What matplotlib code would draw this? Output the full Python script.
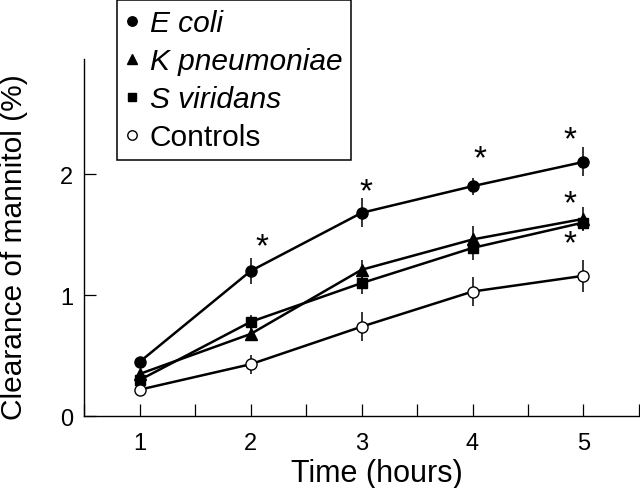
import matplotlib
matplotlib.use("Agg")
import matplotlib.pyplot as plt
from matplotlib.lines import Line2D
from matplotlib.ticker import MultipleLocator

plt.rcParams["font.family"] = ["Liberation Sans", "DejaVu Sans"]

# time points (hours)
hours = [1, 2, 3, 4, 5]

# clearance of mannitol (%), mean and error
e_coli = [0.45, 1.20, 1.68, 1.90, 2.10]
e_coli_err = [0.03, 0.11, 0.12, 0.07, 0.12]
k_pneumoniae = [0.35, 0.68, 1.21, 1.46, 1.63]
k_pneumoniae_err = [0.03, 0.05, 0.08, 0.11, 0.10]
s_viridans = [0.30, 0.78, 1.10, 1.39, 1.60]
s_viridans_err = [0.03, 0.06, 0.09, 0.10, 0.06]
controls = [0.22, 0.43, 0.74, 1.03, 1.16]
controls_err = [0.02, 0.08, 0.12, 0.12, 0.13]

# significance asterisks (x, y)
star_x = [2.105, 3.04, 4.07, 4.88, 4.88, 4.88]
star_y = [1.46, 1.91, 2.18, 2.34, 1.81, 1.48]

LINE_W = 1.8

fig = plt.figure(figsize=(6.4, 4.89), dpi=100)
ax = fig.add_axes([84.3 / 640, 1 - 417.3 / 489, 1 - 84.3 / 640, (417.3 - 60) / 489])

series = [
    (e_coli, e_coli_err, "o", "black", 8.0, "E coli"),
    (k_pneumoniae, k_pneumoniae_err, "^", "black", 8.0, "K pneumoniae"),
    (s_viridans, s_viridans_err, "s", "black", 6.5, "S viridans"),
    (controls, controls_err, "o", "white", 8.0, "Controls"),
]

for values, errs, marker, face, size, label in series:
    ax.errorbar(hours, values, yerr=errs, fmt="-", color="black", linewidth=LINE_W,
                elinewidth=1.1, capsize=0, marker=marker, markersize=size,
                markerfacecolor=face, markeredgecolor="black", markeredgewidth=1.0)

for x, y in zip(star_x, star_y):
    ax.annotate("*", (x, y), xytext=(0, -5), textcoords="offset points",
                ha="center", va="center", fontsize=24)

ax.set_xlim(0.5, 5.51)
ax.set_ylim(0, 2.95)
ax.set_xticks(hours)
ax.xaxis.set_minor_locator(MultipleLocator(0.5))
ax.set_yticks([0, 1, 2])
ax.tick_params(axis="both", which="both", direction="in", length=8.6, width=0.9,
               labelsize=17)
ax.tick_params(axis="x", which="both", pad=11)
ax.tick_params(axis="y", pad=8)
for side in ["top", "right"]:
    ax.spines[side].set_visible(False)
for side in ["left", "bottom"]:
    ax.spines[side].set_linewidth(1.0)

ax.set_xlabel("Time (hours)", fontsize=22)
ax.xaxis.set_label_coords(0.527, -0.118)
ax.xaxis.label.set_va("top")
ax.set_ylabel("Clearance of mannitol (%)", fontsize=21.5)
ax.yaxis.set_label_coords(-0.101, 0.477)

handles = [
    Line2D([], [], linestyle="none", marker=m, markersize=s * 0.85,
           markerfacecolor=f, markeredgecolor="black", markeredgewidth=1.0)
    for _, _, m, f, s, _ in series
]
labels = [s[-1] for s in series]
lgd = ax.legend(handles, labels, loc="upper left", bbox_to_anchor=(117 / 640, 1 - 1 / 489),
                bbox_transform=fig.transFigure, borderaxespad=0, fontsize=21.5,
                fancybox=False, framealpha=1, edgecolor="black", handlelength=0.4,
                handletextpad=0.4, borderpad=0.3, labelspacing=0.34)
lgd.get_frame().set_linewidth(1.1)
for txt in lgd.get_texts()[:3]:
    txt.set_style("italic")

fig.savefig("out.png", dpi=100)
